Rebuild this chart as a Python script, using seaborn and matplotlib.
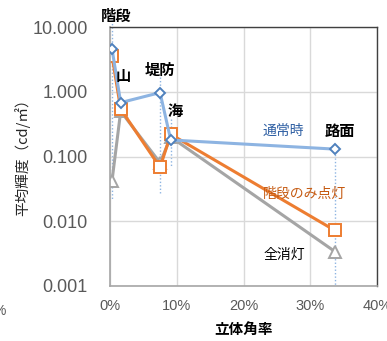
import matplotlib
matplotlib.use("Agg")
import matplotlib.pyplot as plt
import seaborn as sns
import pandas as pd
from matplotlib.ticker import FixedLocator, FuncFormatter

# Locations along the solid-angle axis (fraction of the view)
places = ["階段", "山", "堤防", "海", "路面"]
solid_angle = [0.003, 0.016, 0.075, 0.091, 0.337]

# Mean luminance (cd/m2) for each lighting condition
normal = [4.6, 0.68, 0.97, 0.18, 0.13]
stairs_only = [3.6, 0.54, 0.068, 0.22, 0.0072]
all_off = [0.042, 0.50, 0.080, 0.20, 0.0034]

series_names = ["通常時", "階段のみ点灯", "全消灯"]
y_ticks = [0.001, 0.01, 0.1, 1, 10]
y_tick_labels = ["0.001", "0.010", "0.100", "1.000", "10.000"]
x_ticks = [0.0, 0.1, 0.2, 0.3, 0.4]

sns.set_theme(style="white")
plt.rcParams["font.family"] = ["Noto Sans CJK JP", "DejaVu Sans"]

fig = plt.figure(figsize=(3.87, 3.41), dpi=100)
ax = fig.add_axes([110 / 387, 1 - 286 / 341, 267 / 387, 259 / 341])

df = pd.DataFrame({
    "place": places * 3,
    "x": solid_angle * 3,
    "y": normal + stairs_only + all_off,
    "cond": [series_names[0]] * 5 + [series_names[1]] * 5 + [series_names[2]] * 5,
})

styles = {
    "通常時": dict(color="#8db4e2", mec="#4f81bd", marker="D", ms=5.5, z=3),
    "階段のみ点灯": dict(color="#ed7d31", mec="#ed7d31", marker="s", ms=8, z=2),
    "全消灯": dict(color="#a5a5a5", mec="#a5a5a5", marker="^", ms=8.5, z=1),
}

# dotted guides dropping from each labelled location
guide = dict(color="#8db4e2", linestyle=(0, (1, 1.5)), linewidth=1.0, zorder=0.5)
ax.plot([solid_angle[0]] * 2, [13.0, 0.022], clip_on=False, **guide)
ax.plot([solid_angle[2]] * 2, [1.7, 0.026], **guide)
ax.plot([solid_angle[3]] * 2, [0.38, 0.069], **guide)
ax.plot([solid_angle[4]] * 2, [0.157, 0.001], **guide)

for name in series_names:
    st = styles[name]
    sub = df[df["cond"] == name]
    sns.lineplot(data=sub, x="x", y="y", ax=ax, sort=False, color=st["color"],
                 linewidth=2.2, marker=st["marker"], markersize=st["ms"],
                 markerfacecolor="white", markeredgecolor=st["mec"],
                 markeredgewidth=1.4, zorder=st["z"], legend=False)

ax.set_yscale("log")
ax.set_ylim(0.001, 10)
ax.set_xlim(0, 0.4)
ax.yaxis.set_major_locator(FixedLocator(y_ticks))
ax.yaxis.set_minor_locator(FixedLocator([]))
ax.set_yticks(y_ticks)
ax.set_yticklabels(y_tick_labels)
ax.set_xticks(x_ticks)
ax.xaxis.set_major_formatter(FuncFormatter(lambda v, p: f"{v * 100:.0f}%"))

ax.grid(True, color="#d9d9d9", linewidth=1.0)
ax.set_axisbelow(True)
for side in ["left", "bottom"]:
    ax.spines[side].set_color("#a6a6a6")
    ax.spines[side].set_linewidth(1.2)
for side in ["top", "right"]:
    ax.spines[side].set_color("#404040")
    ax.spines[side].set_linewidth(1.0)

num_font = ["Liberation Sans", "DejaVu Sans"]
ax.tick_params(axis="y", labelsize=13, colors="#595959", length=0, pad=16)
ax.tick_params(axis="x", labelsize=10.5, colors="#595959", length=0, pad=9)
for lbl in ax.get_yticklabels() + ax.get_xticklabels():
    lbl.set_family(num_font)

ax.set_xlabel("立体角率", fontsize=10.5, fontweight="bold", color="black", labelpad=6)
ax.set_ylabel("平均輝度（cd/㎡）", fontsize=10.5, color="#262626")
ax.yaxis.set_label_coords(-0.30, 0.51)

# location labels
loc_kw = dict(fontsize=11, fontweight="bold", color="black", ha="center", va="center")
ax.annotate("階段", (solid_angle[0], normal[0]), xytext=(4, 33), textcoords="offset pixels",
            annotation_clip=False, **loc_kw)
ax.annotate("山", (solid_angle[1], normal[1]), xytext=(3, 27), textcoords="offset pixels", **loc_kw)
ax.annotate("堤防", (solid_angle[2], normal[2]), xytext=(0, 23), textcoords="offset pixels", **loc_kw)
ax.annotate("海", (solid_angle[3], normal[3]), xytext=(4, 29), textcoords="offset pixels", **loc_kw)
ax.annotate("路面", (solid_angle[4], normal[4]), xytext=(5, 18), textcoords="offset pixels", **loc_kw)

# series labels
ser_kw = dict(fontsize=10, fontstyle="italic", ha="center", va="center", textcoords="offset pixels")
ax.annotate("通常時", (solid_angle[4], normal[4]), xytext=(-52, 18), color="#2e5fa3", **ser_kw)
ax.annotate("階段のみ点灯", (solid_angle[4], stairs_only[4]), xytext=(-30, 37), color="#c55a11", **ser_kw)
ax.annotate("全消灯", (solid_angle[4], all_off[4]), xytext=(-51, -3), color="black", **ser_kw)

fig.text(-6 / 387, 1 - 311 / 341, "%", fontsize=10, color="#595959", ha="left", va="center",
         family=num_font)

fig.savefig("out.png", dpi=100)
